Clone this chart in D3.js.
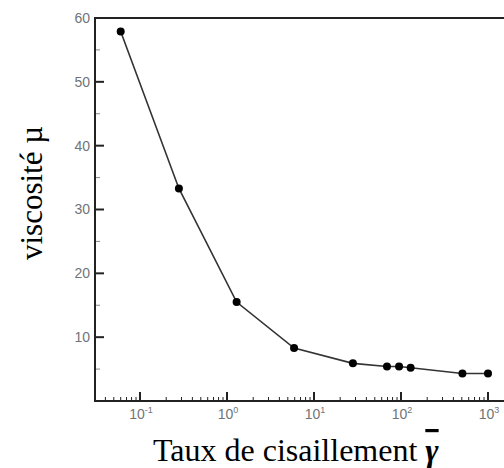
<!DOCTYPE html>
<html>
<head>
<meta charset="utf-8">
<title>viscosité</title>
<style>
  body { margin: 0; background: #fff; }
</style>
</head>
<body>
<script src="https://d3js.org/d3.v7.min.js"></script>
<script>
// data
const shearRate = [0.06, 0.28, 1.29, 5.9, 28, 69, 95, 129, 508, 1000];
const viscosity = [57.9, 33.3, 15.5, 8.3, 5.9, 5.4, 5.4, 5.2, 4.3, 4.3];
const yTicks = [10, 20, 30, 40, 50, 60];
const yMinor = [5, 15, 25, 35, 45, 55];
const xExponents = [-1, 0, 1, 2, 3];

const width = 504, height = 468;
const plotLeft = 95, plotTop = 18, plotBottom = 401;

const svg = d3.select("body").append("svg")
    .attr("width", width)
    .attr("height", height);

// log x axis, one decade ~ 87px
const x = d3.scaleLog()
    .domain([Math.pow(10, -1 - 45 / 87), Math.pow(10, 3 + 16 / 87)])
    .range([plotLeft, width]);

const y = d3.scaleLinear()
    .domain([0, 60])
    .range([plotBottom, plotTop]);

// minor x ticks
const xMinor = [];
for (let e = -2; e <= 3; e++) {
    for (let k = 2; k <= 9; k++) {
        const v = k * Math.pow(10, e);
        if (v > x.domain()[0] && v < x.domain()[1]) xMinor.push(v);
    }
}

const axisCol = "#222";

// x ticks (inside, pointing up)
svg.selectAll(".xminor").data(xMinor).enter().append("line")
    .attr("x1", d => x(d)).attr("x2", d => x(d))
    .attr("y1", plotBottom).attr("y2", plotBottom - 4)
    .attr("stroke", axisCol).attr("stroke-width", 1);

svg.selectAll(".xmajor").data(xExponents).enter().append("line")
    .attr("x1", d => x(Math.pow(10, d))).attr("x2", d => x(Math.pow(10, d)))
    .attr("y1", plotBottom).attr("y2", plotBottom - 9)
    .attr("stroke", axisCol).attr("stroke-width", 2);

// y ticks (inside, pointing right)
svg.selectAll(".yminor").data(yMinor).enter().append("line")
    .attr("x1", plotLeft).attr("x2", plotLeft + 5)
    .attr("y1", d => y(d)).attr("y2", d => y(d))
    .attr("stroke", "#888").attr("stroke-width", 1);

svg.selectAll(".ymajor").data(yTicks).enter().append("line")
    .attr("x1", plotLeft).attr("x2", plotLeft + 9)
    .attr("y1", d => y(d)).attr("y2", d => y(d))
    .attr("stroke", axisCol).attr("stroke-width", 2);

// frame
svg.append("path")
    .attr("d", `M${width},${plotTop}H${plotLeft}V${plotBottom}H${width}`)
    .attr("fill", "none")
    .attr("stroke", axisCol)
    .attr("stroke-width", 2);

// y tick labels
svg.selectAll(".ylab").data(yTicks).enter().append("text")
    .attr("x", plotLeft - 5)
    .attr("y", d => y(d))
    .attr("dy", "0.35em")
    .attr("text-anchor", "end")
    .attr("font-family", "Liberation Sans, Arial, sans-serif")
    .attr("font-size", 14)
    .attr("fill", "#707478")
    .text(d => d);

// x tick labels 10^n
const xl = svg.selectAll(".xlab").data(xExponents).enter().append("text")
    .attr("x", d => x(Math.pow(10, d)) + 1)
    .attr("y", 419)
    .attr("text-anchor", "middle")
    .attr("font-family", "Liberation Sans, Arial, sans-serif")
    .attr("font-size", 14)
    .attr("fill", "#707478");
xl.append("tspan").text("10");
xl.append("tspan")
    .attr("dy", -6)
    .attr("font-size", 9)
    .text(d => d);

// curve
const pts = shearRate.map((s, i) => ({ s: s, v: viscosity[i] }));

svg.append("path")
    .datum(pts)
    .attr("fill", "none")
    .attr("stroke", "#333")
    .attr("stroke-width", 1.6)
    .attr("d", d3.line()
        .x(d => x(d.s))
        .y(d => y(d.v)));

svg.selectAll(".dot").data(pts).enter().append("circle")
    .attr("cx", d => x(d.s))
    .attr("cy", d => y(d.v))
    .attr("r", 4)
    .attr("fill", "#000");

// axis titles
svg.append("text")
    .attr("transform", "translate(42,193) rotate(-90)")
    .attr("text-anchor", "middle")
    .attr("font-family", "Liberation Serif, Times New Roman, serif")
    .attr("font-size", 31)
    .attr("fill", "#000")
    .text("viscosité µ");

const xt = svg.append("text")
    .attr("x", 153)
    .attr("y", 461)
    .attr("font-family", "Liberation Serif, Times New Roman, serif")
    .attr("font-size", 32)
    .attr("fill", "#000");
xt.append("tspan").text("Taux de cisaillement ");
xt.append("tspan")
    .attr("font-weight", "bold")
    .attr("font-style", "italic")
    .style("text-decoration", "overline")
    .text("γ");
</script>
</body>
</html>
